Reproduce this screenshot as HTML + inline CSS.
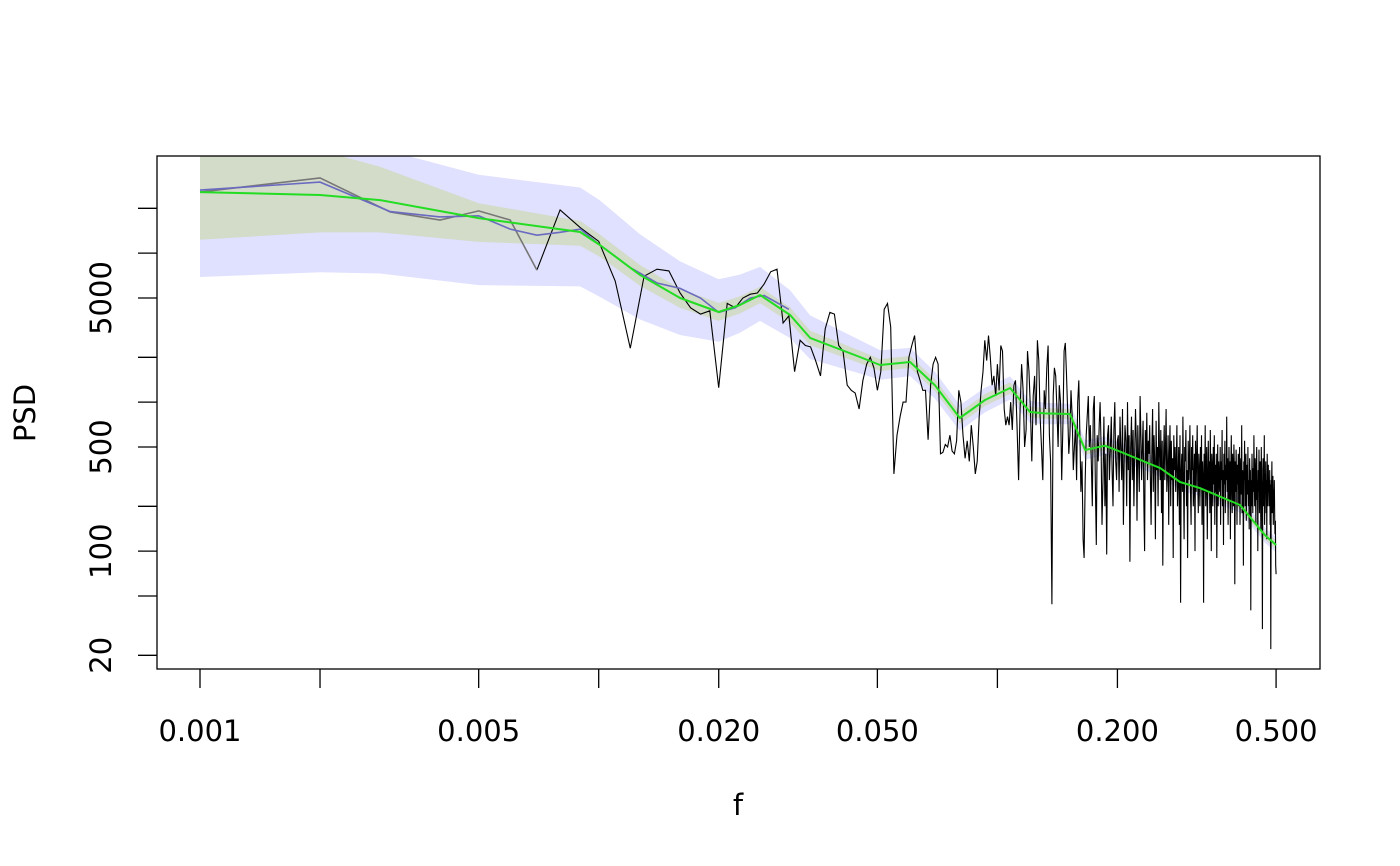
<!DOCTYPE html>
<html><head><meta charset="utf-8"><style>
html,body{margin:0;padding:0;background:#fff;}
svg{display:block;font-family:"DejaVu Sans","Liberation Sans",sans-serif;}
</style></head><body>
<svg id="chart" width="1400" height="866" viewBox="0 0 1400 866" xmlns="http://www.w3.org/2000/svg">
<defs><clipPath id="plotclip"><rect x="157" y="156" width="1163" height="513"/></clipPath></defs>
<g id="bands" clip-path="url(#plotclip)"></g>
<g id="lines" clip-path="url(#plotclip)"></g>
<rect x="157" y="156" width="1163" height="513" fill="none" stroke="#000" stroke-width="1.3"/>
<g id="axes"></g>
<text x="738" y="815" font-size="29" text-anchor="middle">f</text>
<text transform="translate(35,413) rotate(-90)" font-size="29" text-anchor="middle">PSD</text>
</svg>
<script>
// ---- data ----
const xTicks = [0.001,0.002,0.005,0.01,0.02,0.05,0.1,0.2,0.5];
const xLabels = ["0.001","","0.005","","0.020","0.050","","0.200","0.500"];
const yTicks = [20,50,100,200,500,1000,2000,5000,10000,20000];
const yLabels = ["20","","100","","500","","","5000","",""];
const rawPSD = [25700,32000,18900,16700,19200,16700,7700,19500,14800,12000,
6500,2300,7000,7800,7600,5400,4300,3900,4100,1250,
4600,4300,5000,5300,5400,6200,7500,7800,3400,3800,
1600,2600,2400,2350,1900,1500,3100,4000,3900,2400,
2200,1300,1200,1150,900,1400,1800,2000,1700,1200,
1600,4200,4600,3200,330,600,800,1000,1000,2000,
2400,2800,1600,1400,1200,1200,560,1300,1800,2000,
1800,450,460,520,500,600,470,450,550,1200,
1000,600,420,550,400,700,500,330,400,800,
1200,1600,2600,1900,2800,2000,1300,1500,1100,1800,
1200,2400,2200,900,700,800,700,1000,650,1300,
1400,700,300,900,1800,1200,500,650,2200,1600,900,400,1100,1500,700,2600,1900,800,500,300,1200,900,1700,2400,600,400,44,1100,1700,1500,
900,500,1300,1000,300,700,2200,2500,1600,900,450,600,1200,800,350,500,700,300,1000,1400,600,250,400,120,90,300,600,800,1100,500,
700,400,200,900,1100,300,110,600,400,700,1000,500,150,300,800,200,450,95,600,700,300,500,800,350,200,650,1000,400,300,550,
600,250,800,500,300,900,150,400,700,550,200,1000,350,600,85,500,800,300,650,200,450,900,550,160,700,400,250,1100,600,300,500,750,200,100,650,400,850,300,550,450,
700,300,150,500,900,250,600,400,120,750,350,500,200,1000,450,300,650,180,550,80,400,700,300,500,900,250,350,600,150,450,700,200,550,300,420,90,600,350,500,250,
400,700,200,300,500,150,600,45,350,450,250,800,300,120,500,400,650,200,350,90,550,300,400,700,250,150,500,350,600,200,300,450,100,550,250,400,700,300,180,450,
350,200,500,260,600,150,400,300,45,450,250,700,200,350,500,120,300,550,250,400,180,650,300,100,450,350,200,500,280,600,150,380,250,450,90,300,520,200,400,300,
250,500,150,400,300,650,200,350,110,450,280,550,180,380,300,800,250,420,150,330,500,220,400,120,350,600,260,180,450,300,200,520,350,60,400,250,480,300,150,380,
280,450,200,350,500,150,300,420,240,700,180,350,260,80,400,300,550,200,330,450,160,280,380,240,500,200,300,140,420,260,350,40,300,200,450,280,180,360,250,600,
300,200,420,260,150,380,500,220,300,100,350,250,480,180,300,400,220,140,500,300,250,30,350,420,200,280,600,150,330,250,400,180,300,120,450,260,200,380,250,300,
200,350,150,280,22,300,250,400,180,220,320,150,260,200,300,170,130,160,80,70];
const rawN = 1000;
const blueF = [0.001,0.002,0.003,0.004,0.005,0.006,0.007,0.008,0.009,0.010,0.012,0.014,0.016,0.018,0.020,0.022,0.024,0.026,0.030];
const blueV = [26500,30000,19000,17500,17800,14500,13200,13800,14500,11500,8000,6300,5800,5000,4000,4300,5000,5200,4200];
const greenF = [0.001,0.002,0.00283,0.005,0.00898,0.01007,0.0127,0.016,0.02,0.0226,0.0254,0.0302,0.0339,0.0452,0.0508,0.0604,0.0697,0.0805,0.0931,0.1076,0.1207,0.1316,0.152,0.166,0.186,0.203,0.256,0.287,0.322,0.406,0.469,0.5];
const greenV = [25700,24550,22700,17200,13870,11350,7130,5000,4030,4490,5240,3845,2700,2010,1775,1860,1300,783,1033,1245,859,840,833,477,510,466,361,291,265,204,128,110];
const bandF = [0.001,0.005,0.01,0.02,0.05,0.1,0.2,0.5];
const greenUp = [0.45,0.1,0.07,0.06,0.04,0.04,0.03,0.03];
const greenLo = [0.32,0.16,0.08,0.06,0.04,0.04,0.03,0.03];
const blueUp = [0.45,0.29,0.3,0.22,0.1,0.08,0.06,0.05];
const blueLo = [0.57,0.45,0.35,0.2,0.1,0.08,0.06,0.05];
// ---- scales ----
const X0=200, XD=398.7, Y0=298, YD=149;
const xs = f => X0 + XD*Math.log10(f/0.001);
const ys = v => Y0 - YD*Math.log10(v/5000);
const NS="http://www.w3.org/2000/svg";
function mk(tag, parent, attrs){const e=document.createElementNS(NS,tag);for(const k in attrs)e.setAttribute(k,attrs[k]);parent.appendChild(e);return e;}
function interp(xa, ya, x){const lx=Math.log10(x);
  if(x<=xa[0])return ya[0]; if(x>=xa[xa.length-1])return ya[ya.length-1];
  for(let i=1;i<xa.length;i++){if(x<=xa[i]){const a=Math.log10(xa[i-1]),b=Math.log10(xa[i]);const t=(lx-a)/(b-a);return ya[i-1]+t*(ya[i]-ya[i-1]);}}}
const bands=document.getElementById('bands'), lines=document.getElementById('lines'), axes=document.getElementById('axes');
function bandPath(up, lo){
  const top=greenF.map((f,i)=>[xs(f), ys(greenV[i]*Math.pow(10,interp(bandF,up,f)))]);
  const bot=greenF.map((f,i)=>[xs(f), ys(greenV[i]/Math.pow(10,interp(bandF,lo,f)))]).reverse();
  return 'M'+top.concat(bot).map(p=>p[0].toFixed(1)+','+p[1].toFixed(1)).join('L')+'Z';
}
const bb=mk('path',bands,{d:bandPath(blueUp,blueLo),fill:'#e0e0ff'});


const gb=mk('path',bands,{d:bandPath(greenUp,greenLo),fill:'#d3dbc9'});


let pts=rawPSD.map((v,i)=>[xs((i+1)/rawN), ys(v)]);
const raw=mk('path',lines,{d:'M'+pts.slice(6).map(p=>p[0].toFixed(1)+','+p[1].toFixed(1)).join('L'),fill:'none',stroke:'#000','stroke-width':1.1});


const grey=mk('path',lines,{d:'M'+pts.slice(0,7).map(p=>p[0].toFixed(1)+','+p[1].toFixed(1)).join('L'),fill:'none',stroke:'#777','stroke-width':1.6});


const bl=mk('path',lines,{d:'M'+blueF.map((f,i)=>xs(f).toFixed(1)+','+ys(blueV[i]).toFixed(1)).join('L'),fill:'none',stroke:'#6a6ac0','stroke-width':1.6});


const gl=mk('path',lines,{d:'M'+greenF.map((f,i)=>xs(f).toFixed(1)+','+ys(greenV[i]).toFixed(1)).join('L'),fill:'none',stroke:'#22dd22','stroke-width':2,'stroke-linejoin':'round'});


xTicks.forEach((t,i)=>{const x=xs(t);
  const tk=mk('line',axes,{x1:x,x2:x,y1:669,y2:688,stroke:'#000','stroke-width':1.3});
  
  
  if(xLabels[i]){const tx=mk('text',axes,{x:x,y:741,'font-size':29,'text-anchor':'middle'});tx.textContent=xLabels[i];
    
    }
});
yTicks.forEach((t,i)=>{const y=ys(t);
  const tk=mk('line',axes,{x1:138,x2:157,y1:y,y2:y,stroke:'#000','stroke-width':1.3});
  
  
  if(yLabels[i]){const tx=mk('text',axes,{transform:`translate(111,${y}) rotate(-90)`,'font-size':29,'text-anchor':'middle'});tx.textContent=yLabels[i];
    
    }
});
</script>
</body></html>
